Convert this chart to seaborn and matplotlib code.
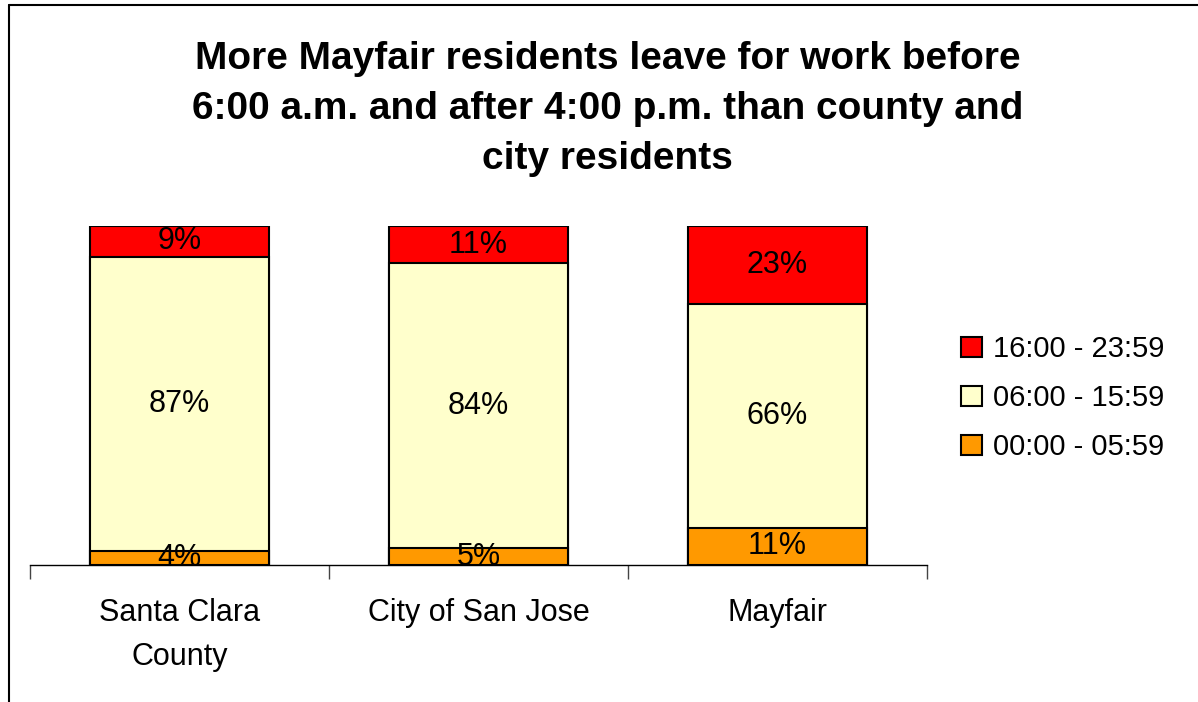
import matplotlib
matplotlib.use("Agg")
import matplotlib.pyplot as plt
from matplotlib.patches import Patch
from matplotlib.lines import Line2D
import seaborn as sns
import numpy as np

# data (percent of residents by departure time)
regions = ["Santa Clara\nCounty", "City of San Jose", "Mayfair"]
early = [4, 5, 11]        # 00:00 - 05:59
day = [87, 84, 66]        # 06:00 - 15:59
late = [9, 11, 23]        # 16:00 - 23:59
series_names = ["00:00 - 05:59", "06:00 - 15:59", "16:00 - 23:59"]
series_colors = ["#FF9900", "#FFFFCC", "#FF0000"]

sns.set_style("white")
plt.rcParams["font.family"] = ["Liberation Sans", "DejaVu Sans"]
plt.rcParams["text.color"] = "black"
plt.rcParams["xtick.color"] = "black"

fig = plt.figure(figsize=(11.98, 7.02), dpi=100)
ax = fig.add_axes([30 / 1198, 1 - 565 / 702, (927 - 30) / 1198, (565 - 226) / 702])

# stacked bars: draw cumulative totals from the top segment down
stack = np.array([early, day, late])
cum = stack.cumsum(axis=0)
for i in range(2, -1, -1):
    sns.barplot(x=list(range(3)), y=cum[i], color=series_colors[i], saturation=1,
                width=0.6, edgecolor="black", linewidth=1.5, ax=ax, native_scale=True)

# segment labels at the middle of each segment
for i in range(3):
    for j in range(3):
        ax.text(j, cum[i][j] - stack[i][j] / 2, f"{stack[i][j]}%", ha="center",
                va="center", fontsize=22, color="black")

ax.set_xlim(-0.5, 2.5)
ax.set_ylim(0, 100)
ax.set_xticks([-0.5, 0.5, 1.5, 2.5])
ax.set_xticklabels([])
ax.set_xticks(range(3), minor=True)
ax.set_xticklabels(regions, minor=True, fontsize=22, linespacing=1.6, va="top", color="black")
ax.tick_params(axis="x", which="major", length=10, width=1, color="#444444", direction="out", bottom=True)
ax.tick_params(axis="x", which="minor", length=0, pad=24)
ax.set_yticks([])
ax.set_xlabel("")
ax.set_ylabel("")
for side in ["left", "right", "top"]:
    ax.spines[side].set_visible(False)
ax.spines["bottom"].set_color("black")
ax.spines["bottom"].set_linewidth(1)

fig.text(0.507, 1 - 109 / 702,
         "More Mayfair residents leave for work before\n6:00 a.m. and after 4:00 p.m. than county and\ncity residents",
         ha="center", va="center", fontsize=28, fontweight="bold", linespacing=1.5, color="black")

handles = [Patch(facecolor=series_colors[i], edgecolor="black", linewidth=1.5) for i in range(2, -1, -1)]
labels = [series_names[i] for i in range(2, -1, -1)]
fig.legend(handles, labels, loc="center left", bbox_to_anchor=(935 / 1198, 1 - 398 / 702),
           frameon=False, fontsize=21, handlelength=0.7, handleheight=0.7,
           handletextpad=0.4, labelspacing=0.72, labelcolor="black")

# outer chart frame (left and top edges only are visible)
fig.add_artist(Line2D([9 / 1198, 9 / 1198], [0, 1 - 5 / 702], color="black", linewidth=1.5))
fig.add_artist(Line2D([9 / 1198, 1], [1 - 5 / 702, 1 - 5 / 702], color="black", linewidth=1.5))

fig.savefig("out.png", dpi=100)
